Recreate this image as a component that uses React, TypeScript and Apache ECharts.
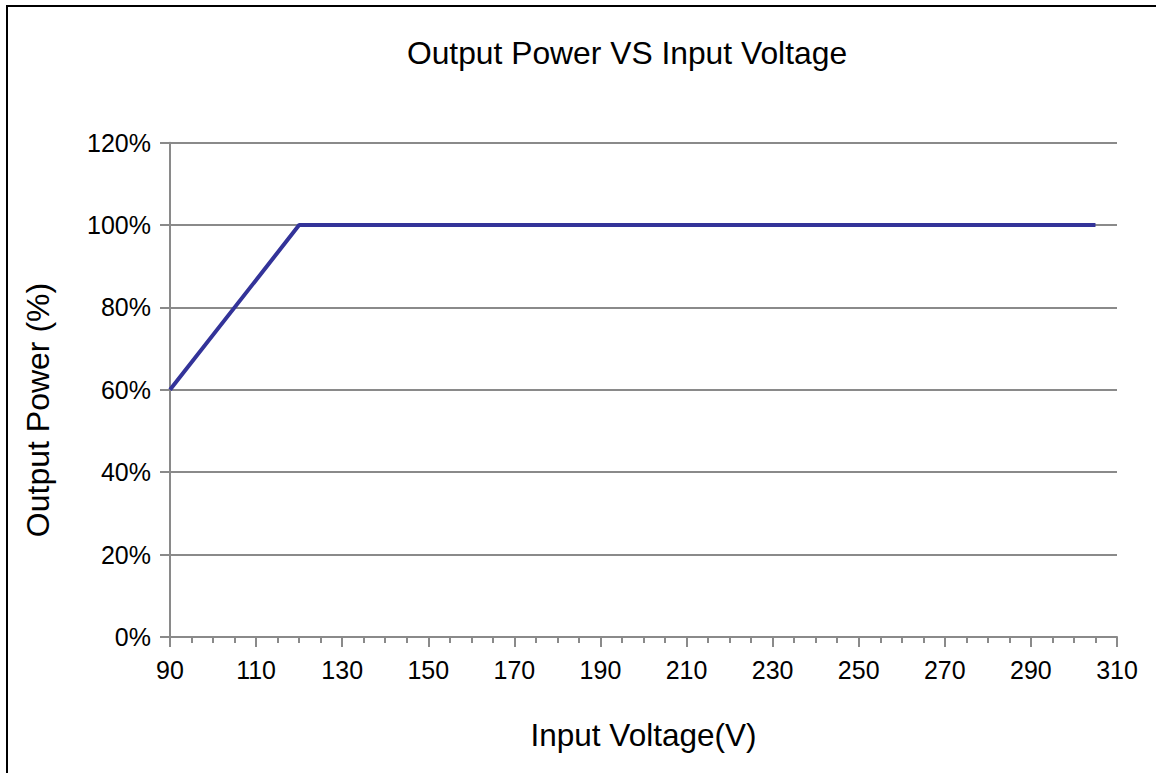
import React, { useEffect, useRef } from "react";
import * as echarts from "echarts";

const voltages = [90, 120, 305];
const outputPower = [60, 100, 100];
const xTicks = { min: 90, max: 310, interval: 20 };
const yTicks = { min: 0, max: 120, interval: 20 };
const titleText = "Output Power VS Input Voltage";
const xName = "Input Voltage(V)";
const yName = "Output Power (%)";

export default function App() {
  const ref = useRef<HTMLDivElement>(null);
  useEffect(() => {
    const chart = echarts.init(ref.current!, null, { renderer: "svg" });
    const font = "Liberation Sans, Arial, sans-serif";
    chart.setOption({
      animation: false,
      backgroundColor: "#fff",
      title: {
        text: titleText,
        left: 622,
        top: 32,
        textAlign: "center",
        textStyle: { fontFamily: font, fontSize: 31.8, fontWeight: "normal", color: "#000" },
      },
      grid: { left: 170, top: 142.7, right: 39, bottom: 136 },
      xAxis: {
        type: "value",
        min: xTicks.min,
        max: xTicks.max,
        interval: xTicks.interval,
        name: xName,
        nameLocation: "middle",
        nameGap: 82,
        nameTextStyle: { fontFamily: font, fontSize: 31.5, color: "#000" },
        axisLine: { show: true, onZero: false, lineStyle: { color: "#8a8a8a", width: 2 } },
        axisTick: { show: true, length: 10, lineStyle: { color: "#8a8a8a", width: 2 } },
        minorTick: { show: true, splitNumber: 4, length: 6, lineStyle: { color: "#8a8a8a", width: 2 } },
        axisLabel: { fontFamily: font, fontSize: 25, color: "#000", margin: 20 },
        splitLine: { show: false },
      },
      yAxis: {
        type: "value",
        min: yTicks.min,
        max: yTicks.max,
        interval: yTicks.interval,
        axisLine: { show: true, lineStyle: { color: "#8a8a8a", width: 2 } },
        axisTick: { show: true, length: 10, lineStyle: { color: "#8a8a8a", width: 2 } },
        axisLabel: { fontFamily: font, fontSize: 25, color: "#000", margin: 19, formatter: "{value}%" },
        splitLine: { show: true, lineStyle: { color: "#8a8a8a", width: 2 } },
      },
      graphic: [
        {
          type: "text",
          x: 38,
          y: 410,
          rotation: Math.PI / 2,
          style: {
            text: yName,
            fontFamily: font,
            fontSize: 32,
            fill: "#000",
            align: "center",
            verticalAlign: "middle",
          },
        },
        { type: "line", shape: { x1: 7, y1: 6, x2: 7, y2: 773 }, style: { stroke: "#000", lineWidth: 2 } },
        { type: "line", shape: { x1: 6, y1: 6, x2: 1156, y2: 6 }, style: { stroke: "#000", lineWidth: 2 } },
      ],
      series: [
        {
          type: "line",
          data: voltages.map((v, i) => [v, outputPower[i]]),
          symbol: "none",
          lineStyle: { color: "#333399", width: 4 },
        },
      ],
    });
    return () => chart.dispose();
  }, []);
  return (
    <div
      ref={ref}
      style={{ position: "absolute", left: 0, top: 0, width: 1156, height: 773 }}
    />
  );
}
